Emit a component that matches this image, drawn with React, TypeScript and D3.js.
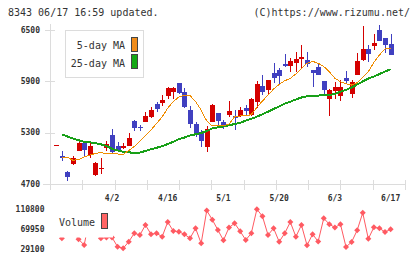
import React, { useEffect, useRef } from 'react';
import * as d3 from 'd3';

// daily OHLC (yen)
const openPrices = [
  5156, 5031, 4836, 4930, 5090, 5179, 5039, 4805, 4876, 5125,
  5277, 5144, 5125, 5148, 5440, 5370, 5428, 5487, 5632, 5650,
  5732, 5779, 5881, 5772, 5565, 5401, 5296, 5136, 5428, 5526,
  5421, 5507, 5498, 5498, 5592, 5507, 5655, 5846, 5799, 6001,
  6033, 6103, 6083, 6118, 6161, 6150, 6033, 6064, 5904, 5694,
  5791, 5729, 5939, 5752, 5974, 6150, 6278, 6313, 6500, 6403, 6337,
];
const highPrices = [
  5156, 5081, 4848, 5023, 5218, 5199, 5187, 4961, 5008, 5199,
  5347, 5187, 5179, 5300, 5452, 5393, 5545, 5604, 5662, 5740,
  5838, 5830, 5881, 5819, 5612, 5428, 5335, 5374, 5630, 5526,
  5448, 5670, 5565, 5604, 5624, 5700, 5904, 5974, 5920, 6118,
  6052, 6220, 6169, 6240, 6325, 6240, 6033, 6118, 5904, 5811,
  5896, 5916, 6025, 5916, 6228, 6547, 6325, 6454, 6559, 6403, 6454,
];
const lowPrices = [
  5156, 4964, 4739, 4918, 5081, 5023, 5008, 4797, 4813, 5081,
  5065, 5081, 5113, 5148, 5323, 5323, 5428, 5468, 5545, 5615,
  5694, 5694, 5749, 5585, 5358, 5245, 5136, 5078, 5421, 5370,
  5347, 5487, 5335, 5487, 5498, 5498, 5592, 5740, 5740, 5877,
  5869, 6071, 6013, 6013, 6052, 6064, 5838, 5974, 5740, 5495,
  5694, 5674, 5869, 5709, 5974, 6138, 6130, 6267, 6375, 6228, 6208,
];
const closePrices = [
  5156, 5004, 4778, 5008, 5179, 5093, 5148, 4949, 4891, 5164,
  5070, 5097, 5144, 5242, 5355, 5355, 5495, 5565, 5577, 5682,
  5826, 5826, 5768, 5604, 5401, 5285, 5206, 5347, 5624, 5436,
  5370, 5553, 5475, 5565, 5557, 5694, 5865, 5779, 5916, 5943,
  5966, 6083, 6138, 6158, 6181, 6103, 6001, 5974, 5799, 5799,
  5838, 5838, 5904, 5896, 6138, 6278, 6220, 6352, 6375, 6325, 6208,
];
const ma5 = [
  null, 5012, 5012, 4977, 4986, 5016, 5039, 5056, 5068, 5051,
  5051, 5051, 5045, 5092, 5138, 5203, 5267, 5331, 5409, 5483,
  5588, 5664, 5717, 5740, 5734, 5662, 5565, 5436, 5378, 5378,
  5378, 5401, 5487, 5495, 5495, 5512, 5596, 5670, 5740, 5810,
  5865, 5907, 5935, 5986, 6052, 6111, 6134, 6111, 6073, 6013,
  5935, 5896, 5872, 5857, 5884, 5947, 6013, 6122, 6208, 6278, 6286,
];
const ma25 = [
  null, 5279, 5255, 5232, 5211, 5194, 5187, 5177, 5164, 5144,
  5111, 5092, 5076, 5071, 5062, 5068, 5086, 5106, 5124, 5141,
  5168, 5194, 5226, 5243, 5267, 5281, 5296, 5319, 5349, 5363,
  5372, 5386, 5401, 5416, 5440, 5462, 5487, 5515, 5545, 5577,
  5606, 5641, 5662, 5688, 5711, 5725, 5729, 5734, 5738, 5740,
  5752, 5778, 5801, 5828, 5863, 5898, 5933, 5956, 5986, 6015, 6041,
];
const volumes = [
  67900, 51000, 72000, 63800, 48900, 37300, 92400, 67900, 51000, 52600,
  52600, 33800, 30500, 44000, 61200, 57700, 78100, 59300, 61200, 54200,
  84200, 65900, 64400, 59100, 51000, 71400, 40700, 107700, 88900, 67900,
  46900, 73000, 81600, 65300, 47500, 61200, 110400, 95900, 57700, 71400,
  44000, 61200, 84200, 54200, 78100, 36700, 59300, 44400, 91800, 79800,
  73000, 79800, 33200, 43400, 67300, 103000, 49900, 73400, 71400, 63800, 69300,
];
const dateLabels = ['4/2', '4/16', '5/1', '5/20', '6/3', '6/17'];
const dateLabelIndex = [10, 20, 30, 40, 50, 60];
const priceTicks = [4700, 5300, 5900, 6500];
const volumeTicks = [29100, 69950, 110800];

const App: React.FC = () => {
  const svgRef = useRef<SVGSVGElement | null>(null);

  useEffect(() => {
    document.body.style.margin = '0';
    const width = 420;
    const height = 259;
    const font = "'DejaVu Sans Mono', monospace";
    const gridColor = '#dcdcdc';
    const upColor = '#d40000';
    const downColor = '#4040c0';
    const volColor = '#ff5a62';

    const svg = d3.select(svgRef.current)
      .attr('width', width)
      .attr('height', height);
    svg.selectAll('*').remove();

    const n = openPrices.length;
    const x = d3.scaleLinear().domain([0, n - 1]).range([56.3, 390.6]);
    const y = d3.scaleLinear().domain([4700, 6500]).range([184, 30]);
    const yVol = d3.scaleLinear().domain([29100, 110800]).range([249, 209]);
    const xTick = d3.scaleLinear().domain([0, 11]).range([50, 405]);

    // header
    svg.append('text').attr('x', 8).attr('y', 16)
      .style('font-family', font).style('font-size', '10px').style('fill', '#333')
      .text('8343 06/17 16:59 updated.');
    svg.append('text').attr('x', 410).attr('y', 16)
      .attr('text-anchor', 'end')
      .style('font-family', font).style('font-size', '10px').style('fill', '#333')
      .text('(C)https://www.rizumu.net/');

    // axes
    const axes = svg.append('g').attr('shape-rendering', 'crispEdges').attr('stroke', gridColor);
    axes.append('line').attr('x1', 50.5).attr('x2', 50.5).attr('y1', 24).attr('y2', 190);
    axes.append('line').attr('x1', 43).attr('x2', 405).attr('y1', y(4700) + 0.5).attr('y2', y(4700) + 0.5);
    axes.selectAll('.ytick').data(priceTicks).enter().append('line')
      .attr('x1', 45).attr('x2', 55)
      .attr('y1', d => Math.round(y(d)) + 0.5).attr('y2', d => Math.round(y(d)) + 0.5);
    axes.selectAll('.xtick').data(d3.range(12)).enter().append('line')
      .attr('x1', d => Math.round(xTick(d)) + 0.5).attr('x2', d => Math.round(xTick(d)) + 0.5)
      .attr('y1', 180).attr('y2', 190);

    svg.selectAll('.plabel').data(priceTicks).enter().append('text')
      .attr('x', 40).attr('y', d => y(d)).attr('dy', '0.35em')
      .attr('text-anchor', 'end')
      .style('font-family', font).style('font-size', '8px').style('font-weight', 'bold').style('fill', '#333')
      .text(d => String(d));

    svg.selectAll('.dlabel').data(dateLabels).enter().append('text')
      .attr('x', (d, i) => x(dateLabelIndex[i])).attr('y', 201)
      .attr('text-anchor', 'middle')
      .style('font-family', font).style('font-size', '8px').style('font-weight', 'bold').style('fill', '#333')
      .text(d => d);

    // candles
    const candles = svg.append('g').attr('shape-rendering', 'crispEdges');
    const idx = d3.range(n);
    candles.selectAll('.wick').data(idx).enter().append('line')
      .attr('x1', i => Math.round(x(i)) + 0.5).attr('x2', i => Math.round(x(i)) + 0.5)
      .attr('y1', i => y(highPrices[i])).attr('y2', i => y(lowPrices[i]))
      .attr('stroke', i => (closePrices[i] >= openPrices[i] ? upColor : downColor));
    candles.selectAll('.body').data(idx).enter().append('rect')
      .attr('x', i => Math.round(x(i)) - 2)
      .attr('width', 5)
      .attr('y', i => y(Math.max(openPrices[i], closePrices[i])))
      .attr('height', i => Math.max(1, Math.abs(y(openPrices[i]) - y(closePrices[i]))))
      .attr('fill', i => (closePrices[i] >= openPrices[i] ? upColor : downColor));

    // moving averages
    const maLine = d3.line<number | null>()
      .defined(d => d != null)
      .x((d, i) => x(i))
      .y(d => y(d as number));
    svg.append('path').datum(ma25).attr('d', maLine)
      .attr('fill', 'none').attr('stroke', '#18a018').attr('stroke-width', 2)
      .attr('shape-rendering', 'crispEdges');
    svg.append('path').datum(ma5).attr('d', maLine)
      .attr('fill', 'none').attr('stroke', '#f08c00').attr('stroke-width', 1)
      .attr('shape-rendering', 'crispEdges');

    // MA legend
    svg.append('rect').attr('x', 65.5).attr('y', 30.5).attr('width', 78).attr('height', 47)
      .attr('fill', '#fff').attr('stroke', gridColor).attr('shape-rendering', 'crispEdges');
    const maLegend = [
      { label: '5-day MA', color: '#f08c1a' },
      { label: '25-day MA', color: '#14a814' },
    ];
    maLegend.forEach((m, i) => {
      svg.append('text').attr('x', 125).attr('y', 48.5 + i * 18)
        .attr('text-anchor', 'end')
        .style('font-family', font).style('font-size', '10px').style('fill', '#333')
        .text(m.label);
      svg.append('rect').attr('x', 131.5).attr('y', 37.5 + i * 17).attr('width', 6).attr('height', 14)
        .attr('fill', m.color).attr('stroke', '#444').attr('shape-rendering', 'crispEdges');
    });

    // volume
    svg.selectAll('.vlabel').data(volumeTicks).enter().append('text')
      .attr('x', 44.5).attr('y', d => yVol(d)).attr('dy', '0.35em')
      .attr('text-anchor', 'end')
      .style('font-family', font).style('font-size', '8px').style('font-weight', 'bold').style('fill', '#333')
      .text(d => String(d));

    const volLine = d3.line<number>().x((d, i) => x(i)).y(d => yVol(d));
    svg.append('path').datum(volumes).attr('d', volLine)
      .attr('fill', 'none').attr('stroke', volColor).attr('stroke-width', 1);
    svg.selectAll('.vmark').data(volumes).enter().append('path')
      .attr('d', d3.symbol().type(d3.symbolSquare).size(18))
      .attr('transform', (d, i) => `translate(${x(i)},${yVol(d)}) rotate(45)`)
      .attr('fill', volColor);

    // volume legend (its white box hides what lies behind it)
    svg.append('rect').attr('x', 52).attr('y', 203).attr('width', 61).attr('height', 34.5)
      .attr('fill', '#fff');
    svg.append('text').attr('x', 59).attr('y', 225.5)
      .style('font-family', font).style('font-size', '10px').style('fill', '#333')
      .text('Volume');
    svg.append('rect').attr('x', 101.5).attr('y', 213.5).attr('width', 6).attr('height', 15)
      .attr('fill', '#ff6464').attr('stroke', '#444').attr('shape-rendering', 'crispEdges');
  }, []);

  return <svg ref={svgRef} style={{ display: 'block' }}></svg>;
};

export default App;
